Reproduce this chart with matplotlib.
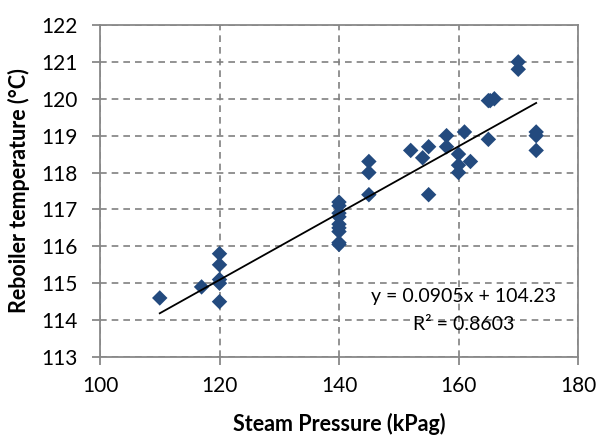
import numpy as np
import matplotlib
matplotlib.use("Agg")
import matplotlib.pyplot as plt

plt.rcParams["font.family"] = ["Lato", "DejaVu Sans"]

# steam pressure (kPag) vs reboiler temperature (degC)
pressure = [110, 117, 120, 120, 120, 120, 120,
            140, 140, 140, 140, 140, 140, 140, 140, 140,
            145, 145, 145, 152, 154, 155, 155, 158, 158,
            160, 160, 160, 161, 162, 165, 165, 165.3, 166,
            170, 170, 173, 173, 173]
temperature = [114.6, 114.9, 115.8, 115.5, 115.1, 115.0, 114.5,
               117.2, 117.1, 116.9, 116.8, 116.6, 116.5, 116.4, 116.1, 116.05,
               118.3, 118.0, 117.4, 118.6, 118.4, 118.7, 117.4, 119.0, 118.7,
               118.5, 118.2, 118.0, 119.1, 118.3, 118.9, 119.95, 119.95, 120.0,
               121.0, 120.8, 119.1, 119.0, 118.6]

# linear trendline
slope = 0.0905
intercept = 104.23
r_squared = 0.8603

fig = plt.figure(figsize=(5.98, 4.37), dpi=100)
ax = fig.add_axes([100 / 598, 80 / 437, 478 / 598, 332 / 437])

ax.scatter(pressure, temperature, marker="D", s=62, color="#234a7e",
           edgecolors="none", zorder=3)

xs = np.array([min(pressure), max(pressure)])
ax.plot(xs, slope * xs + intercept, color="black", lw=1.3, zorder=4)

ax.text(160.8, 114.65, f"y = {slope}x + {intercept}", ha="center",
        va="center", fontsize=14)
ax.text(160.8, 113.88, f"R² = {r_squared}", ha="center", va="center",
        fontsize=14)

ax.set_xlim(100, 180)
ax.set_ylim(113, 122)
ax.set_xticks(np.arange(100, 181, 20))
ax.set_yticks(np.arange(113, 123, 1))

ax.grid(True, color="#808080", linestyle=(0, (4, 3)), lw=1.2)
ax.set_axisbelow(True)
for s in ax.spines.values():
    s.set_color("#888888")
    s.set_linewidth(1.3)
ax.tick_params(direction="out", length=6, width=1.3, color="#888888",
               labelsize=15)
ax.tick_params(axis="x", pad=8)
ax.tick_params(axis="y", pad=10)

ax.set_xlabel("Steam Pressure (kPag)", fontsize=15.5, fontweight="bold",
              labelpad=12)
ax.set_ylabel("Reboiler temperature (°C)", fontsize=15.5, fontweight="bold",
              labelpad=8)

fig.savefig("out.png", dpi=100)
